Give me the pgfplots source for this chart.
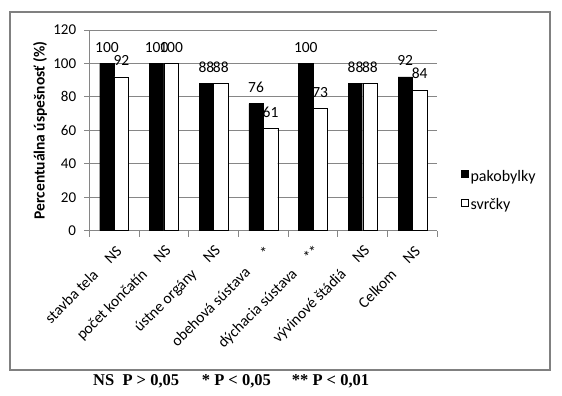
\documentclass[border=0pt]{standalone}
\usepackage{pgfplots}
\pgfplotsset{compat=1.18}
\usepackage{fontspec}
\setmainfont{Carlito}
\newfontfamily\timesfont{Liberation Serif}
\definecolor{gridgray}{RGB}{134,134,134}
\definecolor{framegray}{RGB}{128,128,128}
\begin{document}
\begin{tikzpicture}[x=1pt,y=1pt]
\path[use as bounding box] (0,0) rectangle (562,396);
\draw[framegray, line width=1.5pt] (10,26) rectangle (550,384);
\begin{axis}[
  at={(89.3pt,165.3pt)}, anchor=south west,
  scale only axis, width=348pt, height=200.7pt,
  xmin=-0.5, xmax=6.5, ymin=0, ymax=120,
  enlargelimits=false, clip=false,
  axis x line*=bottom, axis y line*=left,
  axis line style={-, draw=gridgray, line width=0.8pt},
  ybar=0pt, bar width=0.29,
  ymajorgrids, grid style={draw=gridgray, line width=0.8pt},
  ytick={0,20,...,120},
  xtick={0,...,6},
  minor xtick={-0.5,0.5,...,6.5},
  tick align=outside,
  major x tick style={draw=none},
  major tick length=5pt, minor tick length=6pt,
  tick style={draw=gridgray, line width=0.8pt},
  minor tick style={draw=gridgray, line width=0.8pt},
  /pgf/number format/assume math mode=true,
  tick label style={font=\fontsize{15}{17}\selectfont},
  yticklabel style={inner sep=0pt},
  yticklabel shift=8pt,
  xticklabels={stavba tela\hspace{1.05em}NS, počet končatín\hspace{1.05em}NS, ústne orgány\hspace{1.05em}NS, obehová sústava\hspace{1.4em}*, dýchacia sústava\hspace{1.1em}**, vývinové štádiá\hspace{1.05em}NS, Celkom\hspace{1.05em}NS},
  xticklabel style={font=\fontsize{15.5}{17}\selectfont, inner sep=0pt, xshift=5pt, yshift=-13pt, rotate=45, anchor=east},
  ylabel={Percentuálna úspešnosť (\%)},
  ylabel style={at={(axis description cs:-0.1417,0.5)}, anchor=center, font=\bfseries\fontsize{15.5}{17}\selectfont},
  nodes near coords,
  every node near coord/.append style={font=\fontsize{15.5}{17}\selectfont, inner sep=0pt, anchor=south, yshift=11pt},
  legend style={at={(1.068,0.2)}, anchor=west, draw=none, fill=none, font=\fontsize{16}{18}\selectfont, row sep=12pt, inner sep=0pt},
  legend cell align=left,
  legend image code/.code={\draw[#1] (0pt,-1pt) rectangle (7pt,6pt);},
]
\addplot[fill=black, draw=black] coordinates {(0,100) (1,100) (2,88) (3,76) (4,100) (5,88) (6,92)};
\addplot[fill=white, draw=black] coordinates {(0,92) (1,100) (2,88) (3,61) (4,73) (5,88) (6,84)};
\legend{pakobylky, svrčky}
\end{axis}
\begin{scope}[every node/.style={anchor=base west, inner sep=0pt, font=\timesfont\bfseries\fontsize{16.5}{19}\selectfont}]
\node at (93,10) {NS\ \ P > 0,05};
\node at (201.7,10) {* P < 0,05};
\node at (291.7,10) {** P < 0,01};
\end{scope}
\end{tikzpicture}
\end{document}
